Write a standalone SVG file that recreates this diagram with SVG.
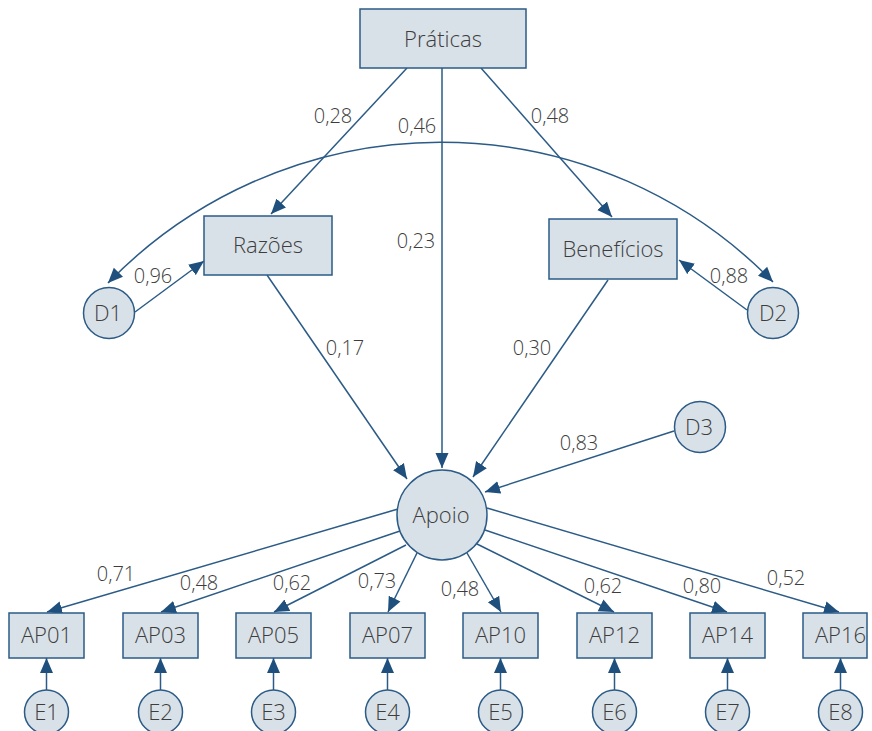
<svg xmlns="http://www.w3.org/2000/svg" width="872" height="731" viewBox="0 0 872 731">
<style>
.n{fill:#d9e1e8;stroke:#2b5b86;stroke-width:1.5}
.t{font-family:"Open Sans","Liberation Sans",sans-serif;font-weight:300;font-size:22px;fill:#3d3d3d;text-anchor:middle}
.l{font-family:"Open Sans","Liberation Sans",sans-serif;font-weight:300;font-size:20px;fill:#3d3d3d;text-anchor:middle}
.c{fill:none;stroke:#2b5b86;stroke-width:1.5;marker-end:url(#ah)}
</style>
<defs>
<marker id="ah" markerUnits="userSpaceOnUse" markerWidth="16" markerHeight="14" refX="15" refY="7" orient="auto-start-reverse">
<path d="M0,0.5 L15,7 L0,13.5 z" fill="#1f4f7d"/>
</marker>
</defs>
<rect width="872" height="731" fill="#ffffff"/>
<g id="connectors">
<line class="c" x1="407" y1="68" x2="271" y2="214"/>
<line class="c" x1="442" y1="68" x2="442" y2="468"/>
<line class="c" x1="481" y1="68" x2="612" y2="217"/>
<path class="c" style="marker-start:url(#ah)" d="M108,283 A464,464 0 0 1 773,282"/>
<line class="c" x1="135" y1="312" x2="204" y2="261"/>
<line class="c" x1="747" y1="310" x2="679" y2="260"/>
<line class="c" x1="267" y1="275" x2="407" y2="479"/>
<line class="c" x1="608" y1="280" x2="473" y2="477"/>
<line class="c" x1="674" y1="431" x2="485" y2="492"/>
<line class="c" x1="398" y1="509" x2="47" y2="612"/>
<line class="c" x1="400" y1="531" x2="161" y2="612"/>
<line class="c" x1="406" y1="545" x2="274" y2="612"/>
<line class="c" x1="417" y1="553" x2="388" y2="612"/>
<line class="c" x1="467" y1="553" x2="501" y2="612"/>
<line class="c" x1="477" y1="544" x2="614" y2="612"/>
<line class="c" x1="485" y1="530" x2="727" y2="612"/>
<line class="c" x1="487" y1="508" x2="839" y2="612"/>
<line class="c" x1="46.5" y1="690" x2="46.5" y2="658"/>
<line class="c" x1="160.5" y1="690" x2="160.5" y2="658"/>
<line class="c" x1="273.5" y1="690" x2="273.5" y2="658"/>
<line class="c" x1="387.5" y1="690" x2="387.5" y2="658"/>
<line class="c" x1="500.5" y1="690" x2="500.5" y2="658"/>
<line class="c" x1="614.5" y1="690" x2="614.5" y2="658"/>
<line class="c" x1="727.5" y1="690" x2="727.5" y2="658"/>
<line class="c" x1="840.5" y1="690" x2="840.5" y2="658"/>
</g>
<g id="labels">
<text class="l" x="333" y="123">0,28</text>
<text class="l" x="417" y="133">0,46</text>
<text class="l" x="550" y="123">0,48</text>
<text class="l" x="416" y="248">0,23</text>
<text class="l" x="153" y="283">0,96</text>
<text class="l" x="729" y="283">0,88</text>
<text class="l" x="345" y="355">0,17</text>
<text class="l" x="532" y="355">0,30</text>
<text class="l" x="579" y="450">0,83</text>
<text class="l" x="116" y="581">0,71</text>
<text class="l" x="199" y="590">0,48</text>
<text class="l" x="292" y="590">0,62</text>
<text class="l" x="377" y="588">0,73</text>
<text class="l" x="460" y="596">0,48</text>
<text class="l" x="603" y="593">0,62</text>
<text class="l" x="702" y="593">0,80</text>
<text class="l" x="786" y="585">0,52</text>
</g>
<g id="Praticas"><rect class="n" x="360" y="9" width="166" height="59"/><text class="t" x="443" y="47">Práticas</text></g>
<g id="Razoes"><rect class="n" x="204" y="216" width="128" height="59"/><text class="t" x="268" y="253">Razões</text></g>
<g id="Beneficios"><rect class="n" x="549" y="219" width="128" height="60"/><text class="t" x="613" y="257">Benefícios</text></g>
<g id="D1"><circle class="n" cx="109" cy="313" r="25.5"/><text class="t" x="108" y="321">D1</text></g>
<g id="D2"><circle class="n" cx="773" cy="313" r="25.5"/><text class="t" x="773" y="321">D2</text></g>
<g id="D3"><circle class="n" cx="700" cy="427" r="25.5"/><text class="t" x="699" y="435">D3</text></g>
<g id="Apoio"><circle class="n" cx="442" cy="515" r="45"/><text class="t" x="441" y="523">Apoio</text></g>
<g id="AP01"><rect class="n" x="9" y="613" width="75" height="45"/><text class="t" x="46.5" y="643">AP01</text></g>
<g id="AP03"><rect class="n" x="123" y="613" width="75" height="45"/><text class="t" x="160.5" y="643">AP03</text></g>
<g id="AP05"><rect class="n" x="236" y="613" width="75" height="45"/><text class="t" x="273.5" y="643">AP05</text></g>
<g id="AP07"><rect class="n" x="350" y="613" width="75" height="45"/><text class="t" x="387.5" y="643">AP07</text></g>
<g id="AP10"><rect class="n" x="463" y="613" width="75" height="45"/><text class="t" x="500.5" y="643">AP10</text></g>
<g id="AP12"><rect class="n" x="577" y="613" width="75" height="45"/><text class="t" x="614.5" y="643">AP12</text></g>
<g id="AP14"><rect class="n" x="690" y="613" width="75" height="45"/><text class="t" x="727.5" y="643">AP14</text></g>
<g id="AP16"><rect class="n" x="803" y="613" width="64" height="45"/><text class="t" x="840.5" y="643">AP16</text></g>
<g id="E1"><circle class="n" cx="46.5" cy="712" r="22"/><text class="t" x="46.5" y="720">E1</text></g>
<g id="E2"><circle class="n" cx="160.5" cy="712" r="22"/><text class="t" x="160.5" y="720">E2</text></g>
<g id="E3"><circle class="n" cx="273.5" cy="712" r="22"/><text class="t" x="273.5" y="720">E3</text></g>
<g id="E4"><circle class="n" cx="387.5" cy="712" r="22"/><text class="t" x="387.5" y="720">E4</text></g>
<g id="E5"><circle class="n" cx="500.5" cy="712" r="22"/><text class="t" x="500.5" y="720">E5</text></g>
<g id="E6"><circle class="n" cx="614.5" cy="712" r="22"/><text class="t" x="614.5" y="720">E6</text></g>
<g id="E7"><circle class="n" cx="727.5" cy="712" r="22"/><text class="t" x="727.5" y="720">E7</text></g>
<g id="E8"><circle class="n" cx="840.5" cy="712" r="22"/><text class="t" x="840.5" y="720">E8</text></g>
</svg>
